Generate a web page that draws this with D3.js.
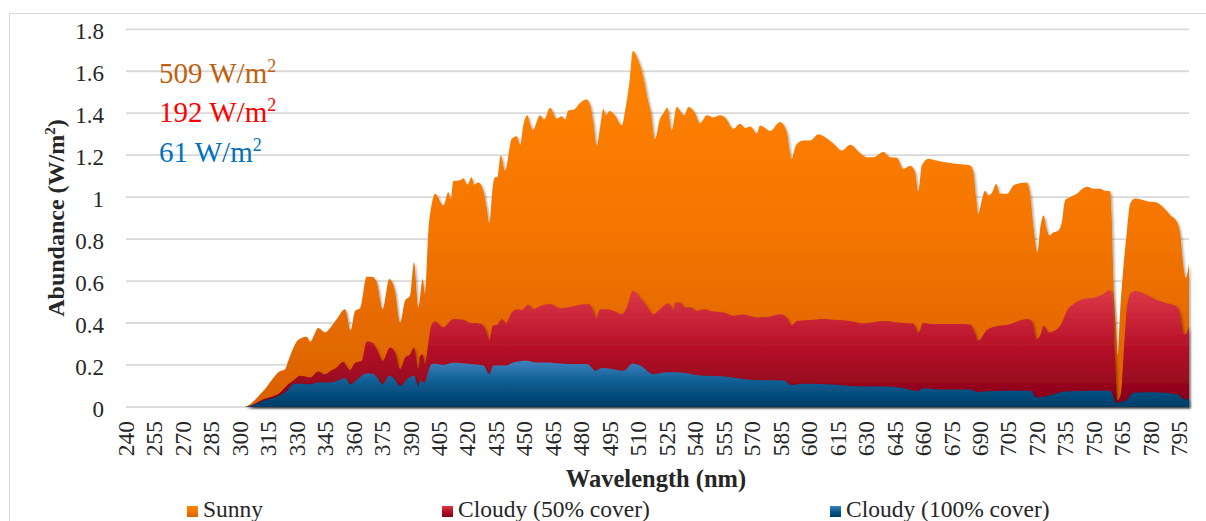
<!DOCTYPE html>
<html>
<head>
<meta charset="utf-8">
<script src="https://cdn.jsdelivr.net/npm/d3@7"></script>
<style>
  html, body { margin: 0; padding: 0; background: #fff; }
  svg { display: block; }
  text { font-family: "Liberation Serif", "Times New Roman", serif; fill: #262626; }
</style>
</head>
<body>
<div id="chart"></div>
<script>
// Spectral irradiance, [wavelength nm, W/m2 per nm]
const sunny = [
  [240,0],[302,0],[312.3,0.076],[321.1,0.17],[323.8,0.18],[325.5,0.22],[328.1,0.28],[330.8,0.32],
  [335.2,0.334],[336.9,0.31],[341.3,0.376],[344.8,0.355],[347.5,0.376],[351,0.419],[355.4,0.466],
  [358.4,0.366],[360.7,0.458],[363.3,0.47],[366.8,0.62],[369.5,0.62],[372.1,0.594],[375.2,0.467],
  [378.7,0.61],[381.7,0.554],[384.4,0.403],[387,0.506],[389.6,0.53],[391.7,0.69],[394,0.474],
  [396.3,0.61],[397.5,0.54],[399.3,0.84],[401.1,0.968],[402.8,1.016],[407.2,0.96],[409.8,1.023],
  [411.2,0.99],[412.4,1.076],[416,1.08],[417.7,1.09],[419.8,1.06],[422.1,1.095],[423.4,1.06],
  [425.6,1.07],[428.3,1.03],[430,0.95],[431.4,0.876],[433.2,1.05],[434.4,1.095],[435.6,1.095],
  [437.4,1.2],[439.7,1.127],[443.2,1.278],[445.8,1.29],[447.6,1.25],[449.3,1.342],[451.4,1.39],
  [452.9,1.35],[454.3,1.32],[458.1,1.39],[460.2,1.37],[463.4,1.426],[466.9,1.374],[469.6,1.385],
  [471.3,1.37],[473,1.413],[475.7,1.416],[479.2,1.449],[482.7,1.465],[484.5,1.44],[486.2,1.36],
  [488,1.246],[489.7,1.33],[491.5,1.42],[492.9,1.39],[494.6,1.41],[497.6,1.39],[501.2,1.342],
  [502.9,1.41],[505.5,1.57],[507,1.697],[509.9,1.652],[512.6,1.572],[515.2,1.453],[516.6,1.4],
  [518.7,1.278],[521.3,1.374],[523.1,1.4],[525.2,1.426],[527.5,1.32],[530.1,1.43],[534,1.39],
  [536.3,1.43],[539.8,1.4],[542.4,1.353],[546,1.39],[549.4,1.38],[553,1.39],[555.6,1.38],
  [560,1.326],[563.5,1.35],[566.1,1.33],[568.8,1.337],[572.3,1.305],[574,1.342],[576.7,1.33],
  [579.3,1.315],[584.6,1.358],[588.1,1.31],[590.7,1.183],[592.5,1.238],[594.2,1.26],[596.8,1.27],
  [600.4,1.27],[604.8,1.3],[609.2,1.28],[612.7,1.254],[617.1,1.222],[621.5,1.25],[626.7,1.21],
  [630.2,1.19],[633.7,1.19],[639,1.215],[642.5,1.19],[646.1,1.188],[649.5,1.135],[653.1,1.15],
  [655.7,1.12],[657.4,1.028],[659.2,1.15],[662.7,1.183],[665.3,1.178],[670.6,1.167],[675.9,1.16],
  [681.1,1.156],[684.7,1.151],[686.4,1.12],[687.8,1.0],[689,0.92],[690.8,0.984],[692.6,1.03],
  [694.3,1.008],[696.1,1.02],[698.4,1.063],[700.5,1.016],[704.3,1.016],[707.5,1.055],[711,1.066],
  [714.6,1.07],[716.3,1.016],[718.1,0.856],[720.2,0.737],[721.6,0.85],[723.4,0.912],[724.8,0.856],
  [726.5,0.817],[728.6,0.832],[731.1,0.84],[733,0.88],[734.7,0.984],[737.4,1.0],[740.9,1.016],
  [744.4,1.044],[746.3,1.05],[749.6,1.04],[753.2,1.04],[755.8,1.03],[758.4,1.028],[759.3,0.904],
  [760.2,0.6],[761.6,0.38],[762.5,0.25],[763.7,0.45],[765.3,0.65],[767.2,0.83],[769,0.97],
  [771.6,0.994],[774.2,0.99],[777.8,0.98],[783,0.974],[786.5,0.95],[790,0.915],[793.6,0.883],
  [795.3,0.83],[797.1,0.668],[798.3,0.615],[800,0.685]
];

const cloudy50 = [
  [240,0],[303,0],[312.3,0.037],[321.1,0.068],[325.5,0.108],[329,0.132],[331.7,0.148],[337,0.14],
  [341.3,0.169],[344.8,0.155],[347.5,0.17],[351,0.188],[354.5,0.215],[356.4,0.19],[358,0.175],
  [360.7,0.21],[364.2,0.22],[366.8,0.312],[369.5,0.307],[372.1,0.275],[375.2,0.22],[379.1,0.283],
  [381.7,0.26],[384.4,0.18],[387,0.236],[389.6,0.25],[391.7,0.283],[394,0.18],[394.9,0.244],
  [396.3,0.25],[397.5,0.204],[399.3,0.307],[401.1,0.395],[402.8,0.407],[407.2,0.379],[409.8,0.4],
  [412.4,0.419],[417.7,0.415],[421.2,0.4],[424.8,0.4],[428.3,0.387],[430,0.355],[431.4,0.318],
  [433.2,0.387],[435.3,0.39],[438,0.419],[440.2,0.4],[443.2,0.45],[445.8,0.466],[448.5,0.462],
  [452,0.487],[454.6,0.466],[458.1,0.48],[463.4,0.49],[468.7,0.47],[473.9,0.476],[479.2,0.487],
  [483.6,0.49],[486.2,0.458],[487.6,0.423],[489.7,0.466],[493.3,0.466],[496.7,0.458],[501.2,0.442],
  [503.8,0.474],[507,0.554],[510.8,0.522],[514.3,0.48],[517.8,0.442],[521.3,0.466],[525.7,0.494],
  [528.4,0.466],[529.3,0.498],[531.9,0.498],[534.5,0.474],[537.2,0.475],[540.7,0.458],[544.2,0.466],
  [549.4,0.455],[554.7,0.45],[560,0.435],[565.2,0.44],[572.3,0.426],[577.6,0.428],[584.6,0.442],
  [588.1,0.426],[590.7,0.39],[593.4,0.41],[600.4,0.414],[607.4,0.419],[614.4,0.414],[621.5,0.41],
  [628.5,0.398],[639,0.41],[649.5,0.4],[654.8,0.398],[657.4,0.355],[660,0.4],[665.3,0.395],
  [675.9,0.395],[684.7,0.393],[687.3,0.35],[689,0.315],[693.5,0.366],[698.7,0.385],[704,0.39],
  [709.3,0.407],[714.6,0.419],[717.2,0.41],[719.8,0.323],[721.6,0.34],[723.4,0.387],[726.1,0.355],
  [730.5,0.371],[733,0.4],[735.7,0.458],[739.2,0.49],[744.4,0.514],[749.6,0.52],[754.9,0.538],
  [758.4,0.557],[759.8,0.5],[761.1,0.235],[762.3,0.03],[764.3,0.07],[765.9,0.3],[767.4,0.48],
  [769.5,0.545],[771.6,0.553],[777.8,0.533],[783,0.51],[790,0.49],[793.6,0.478],[795.3,0.44],
  [797.1,0.35],[798,0.345],[800,0.387]
];

const cloudy100 = [
  [240,0],[303,0],[312.3,0.029],[321.1,0.055],[324.7,0.076],[328.1,0.108],[331.7,0.112],[337,0.108],
  [341.3,0.116],[347.5,0.116],[351,0.124],[355.4,0.137],[358.4,0.108],[361.6,0.13],[366.8,0.159],
  [369.5,0.159],[372.1,0.143],[375.2,0.108],[378.7,0.148],[381.7,0.13],[384.4,0.1],[387.9,0.13],
  [391.7,0.148],[394,0.1],[394.9,0.124],[397.5,0.116],[399.3,0.172],[401.1,0.204],[402.8,0.206],
  [407.2,0.2],[412.4,0.21],[421.2,0.204],[428.3,0.197],[431.4,0.156],[433.5,0.197],[440.2,0.197],
  [444,0.212],[451.1,0.22],[455.5,0.212],[461.7,0.212],[468.7,0.207],[475.7,0.204],[482.7,0.204],
  [487.6,0.172],[490.6,0.185],[496.7,0.18],[502,0.172],[507,0.207],[510.8,0.197],[517.8,0.156],
  [524.9,0.165],[531.9,0.164],[544.2,0.148],[553,0.146],[561.8,0.137],[570.5,0.128],[586.3,0.126],
  [590.7,0.105],[596.8,0.11],[614.4,0.105],[623.2,0.099],[640.8,0.097],[649.5,0.089],[657.4,0.076],
  [660,0.089],[668.9,0.083],[684.7,0.083],[689,0.07],[693.5,0.075],[711,0.077],[716.3,0.077],
  [719.8,0.045],[725.1,0.052],[733.9,0.072],[746.2,0.077],[758.4,0.077],[761.9,0.02],[767.2,0.035],
  [770.7,0.068],[781.3,0.07],[793.6,0.06],[798,0.035],[800,0.04]
];

const seriesNames = ["Sunny", "Cloudy (50% cover)", "Cloudy (100% cover)"];
const totalIrradiance = [509, 192, 61];
const xTickLabels = [240,255,270,285,300,315,330,345,360,375,390,405,420,435,450,465,480,495,
  510,525,540,555,570,585,600,615,630,645,660,675,690,705,720,735,750,765,780,795];
const yTickLabels = ["0","0.2","0.4","0.6","0.8","1","1.2","1.4","1.6","1.8"];

const W = 1206, H = 521;
const svg = d3.select("#chart").append("svg").attr("width", W).attr("height", H);

const x = d3.scaleLinear().domain([240, 800]).range([126, 1189]);
const y = d3.scaleLinear().domain([0, 1.8]).range([406.9, 29.3]);

const defs = svg.append("defs");
const grads = [
  { id: "gSunny", top: "#ff8300", mid: "#f47600", bot: "#d96000" },
  { id: "gCloud50", top: "#dc3848", mid: "#b51028", bot: "#840018" },
  { id: "gCloud100", top: "#3f82bf", mid: "#0a5a8e", bot: "#003c66" }
];
grads.forEach(g => {
  const lg = defs.append("linearGradient").attr("id", g.id)
    .attr("x1", 0).attr("y1", 0).attr("x2", 0).attr("y2", 1);
  lg.append("stop").attr("offset", "0%").attr("stop-color", g.top);
  lg.append("stop").attr("offset", "50%").attr("stop-color", g.mid);
  lg.append("stop").attr("offset", "100%").attr("stop-color", g.bot);
});
const f = defs.append("filter").attr("id", "shadow")
  .attr("x", "-2%").attr("y", "-2%").attr("width", "104%").attr("height", "106%");
f.append("feDropShadow").attr("dx", 1.5).attr("dy", 1.5).attr("stdDeviation", 1)
  .attr("flood-color", "#000").attr("flood-opacity", 0.35);

// outer chart frame
svg.append("rect").attr("x", 9.5).attr("y", 13.5).attr("width", 1220).attr("height", 530)
  .attr("fill", "#fff").attr("stroke", "#d9d9d9").attr("stroke-width", 1);

// horizontal gridlines
svg.append("g").selectAll("line")
  .data(yTickLabels.map(Number).filter(v => v > 0))
  .join("line")
  .attr("x1", x.range()[0]).attr("x2", x.range()[1])
  .attr("y1", d => y(d)).attr("y2", d => y(d))
  .attr("stroke", "#d9d9d9").attr("stroke-width", 1.8);

// category axis baseline
svg.append("line")
  .attr("x1", x.range()[0]).attr("x2", x.range()[1])
  .attr("y1", y(0)).attr("y2", y(0))
  .attr("stroke", "#d0d0d0").attr("stroke-width", 1.5);

const area = d3.area()
  .x(d => x(d[0]))
  .y0(y(0))
  .y1(d => y(d[1]))
  .curve(d3.curveMonotoneX);

const layers = [
  { data: sunny, fill: "url(#gSunny)" },
  { data: cloudy50, fill: "url(#gCloud50)" },
  { data: cloudy100, fill: "url(#gCloud100)" }
];
svg.append("g").selectAll("path")
  .data(layers)
  .join("path")
  .attr("d", d => area(d.data))
  .attr("fill", d => d.fill)
  .attr("filter", "url(#shadow)");

// y tick labels
svg.append("g").selectAll("text")
  .data(yTickLabels)
  .join("text")
  .attr("x", 104)
  .attr("y", d => y(+d) + 9.7)
  .attr("text-anchor", "end")
  .attr("font-size", 23)
  .text(d => d);

// x tick labels (rotated)
svg.append("g").selectAll("text")
  .data(xTickLabels)
  .join("text")
  .attr("transform", d => `translate(${x(d) + 7.8},421) rotate(-90)`)
  .attr("text-anchor", "end")
  .attr("font-size", 23.5)
  .text(d => d);

// axis titles
const yt = svg.append("text")
  .attr("transform", "translate(63.5,218) rotate(-90)")
  .attr("text-anchor", "middle")
  .attr("font-size", 24).attr("font-weight", "bold");
yt.append("tspan").text("Abundance (W/m");
yt.append("tspan").attr("font-size", 15).attr("dy", -9).text("2");
yt.append("tspan").attr("dy", 9).text(")");

svg.append("text")
  .attr("x", 656).attr("y", 487)
  .attr("text-anchor", "middle")
  .attr("font-size", 24.5).attr("font-weight", "bold")
  .text("Wavelength (nm)");

// total irradiance annotations
const noteColors = ["#c0600e", "#ff0000", "#0070c0"];
const noteY = [83, 122, 162];
totalIrradiance.forEach((v, i) => {
  const t = svg.append("text")
    .attr("x", 159).attr("y", noteY[i])
    .attr("font-size", 29)
    .style("fill", noteColors[i]);
  t.append("tspan").text(`${v} W/m`);
  t.append("tspan").attr("font-size", 18).attr("dy", -11).text("2");
});

// legend
const legendX = [187, 442, 830];
const legendFill = ["url(#gSunny)", "url(#gCloud50)", "url(#gCloud100)"];
const lg = svg.append("g");
seriesNames.forEach((name, i) => {
  lg.append("rect")
    .attr("x", legendX[i]).attr("y", 506).attr("width", 11).attr("height", 11)
    .attr("fill", legendFill[i]);
  lg.append("text")
    .attr("x", legendX[i] + 16).attr("y", 517)
    .attr("font-size", 23.5)
    .text(name);
});
</script>
</body>
</html>
